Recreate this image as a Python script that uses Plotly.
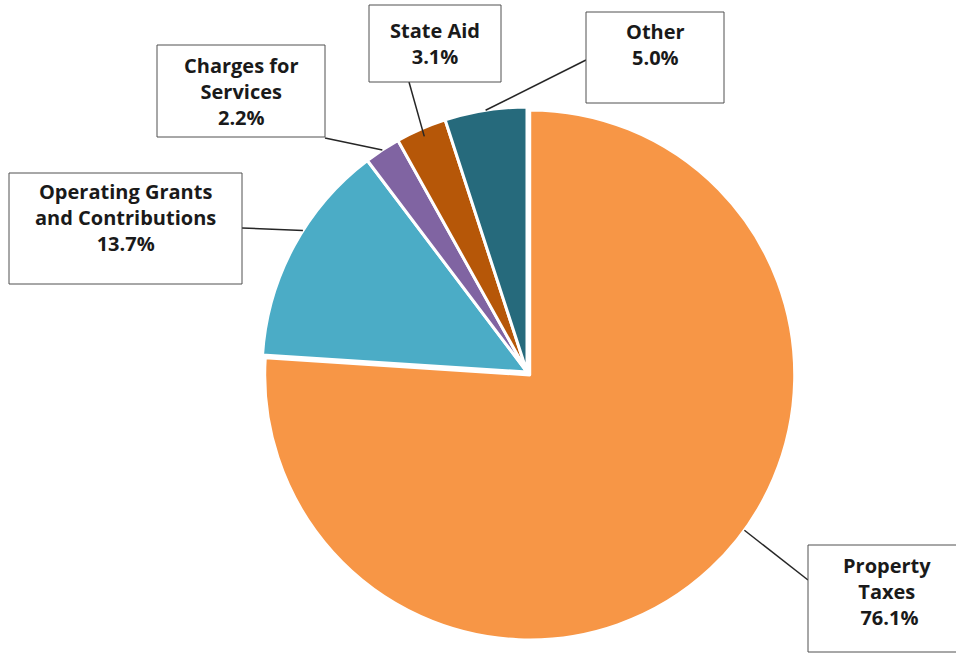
import math
import plotly.graph_objects as go

# ---- data ----
labels = ["Property Taxes", "Operating Grants and Contributions", "Charges for Services", "State Aid", "Other"]
values = [76.1, 13.7, 2.2, 3.1, 5.0]
box_texts = ["Property<br>Taxes<br> 76.1%", "Operating Grants<br>and Contributions<br>13.7%",
             "Charges for<br>Services<br>2.2%", "State Aid<br>3.1%", "Other<br>5.0%"]
colors = ["#F79646", "#4BACC6", "#8064A2", "#B65708", "#266A7C"]

W, H = 956, 653
cx, cy, R = 527.0, 372.0, 265.0
pulls = [0.015, 0, 0, 0, 0]
maxpull = max(pulls)
half = R * (1 + maxpull)
dom_x = [(cx - half) / W, (cx + half) / W]
dom_y = [1 - (cy + half) / H, 1 - (cy - half) / H]

fig = go.Figure()
fig.add_trace(go.Pie(
    labels=labels, values=values, sort=False, direction="clockwise", rotation=0,
    marker=dict(colors=colors, line=dict(color="white", width=3)),
    textinfo="none", hoverinfo="label+percent", pull=pulls, showlegend=False,
    domain=dict(x=dom_x, y=dom_y),
))

# layout: label boxes (x0, y0, x1, y1), text centre x / first-line centre y,
# leader start points, anchor position in slice
boxes = [(808, 545, 962, 652), (9, 173, 242, 284), (157, 45, 325, 137), (369, 5, 501, 82), (586, 12, 724, 103)]
text_pos = [(887, 567), (125, 193), (241, 67), (435, 32), (655, 33)]
starts = [(808, 580), (242, 228), (325, 138), (409, 82), (586, 60)]
anchor_frac = [0.46, 0.58, 0.5, 0.5, 0.5]
anchor_rad = [1.0, 1.0, 1.0, 0.97, 1.0]

total = sum(values)
cum = 0.0
heads = []
for i, v in enumerate(values):
    frac_mid = (cum + v * anchor_frac[i]) / total
    bis = (cum + v / 2) / total * 2 * math.pi
    a = frac_mid * 2 * math.pi
    ccx = cx + pulls[i] * R * math.sin(bis)
    ccy = cy - pulls[i] * R * math.cos(bis)
    rr = R * anchor_rad[i]
    heads.append((ccx + rr * math.sin(a), ccy - rr * math.cos(a)))
    cum += v

shapes = []
for (sx, sy), (hx, hy) in zip(starts, heads):
    shapes.append(dict(type="line", xref="x", yref="y", x0=sx, y0=sy, x1=hx, y1=hy,
                       line=dict(color="#262626", width=1.5), layer="above"))
for (x0, y0, x1, y1) in boxes:
    shapes.append(dict(type="rect", xref="x", yref="y", x0=x0, y0=y0, x1=x1, y1=y1,
                       line=dict(color="#505050", width=1), fillcolor="white", layer="above"))

FS = 20
annotations = []
for (tx, ty), t in zip(text_pos, box_texts):
    annotations.append(dict(
        x=tx, y=ty - FS * 0.78, xref="x", yref="y", xanchor="center", yanchor="top",
        text=t, showarrow=False, align="center", borderpad=0,
        font=dict(family="Open Sans", size=FS, color="#1a1a1a", weight="bold"),
    ))

fig.update_layout(
    width=W, height=H, margin=dict(l=0, r=0, t=0, b=0),
    paper_bgcolor="white", plot_bgcolor="rgba(0,0,0,0)",
    xaxis=dict(range=[0, W], visible=False, fixedrange=True, domain=[0, 1]),
    yaxis=dict(range=[H, 0], visible=False, fixedrange=True, domain=[0, 1]),
    shapes=shapes, annotations=annotations,
)
fig.write_html("out.html")
